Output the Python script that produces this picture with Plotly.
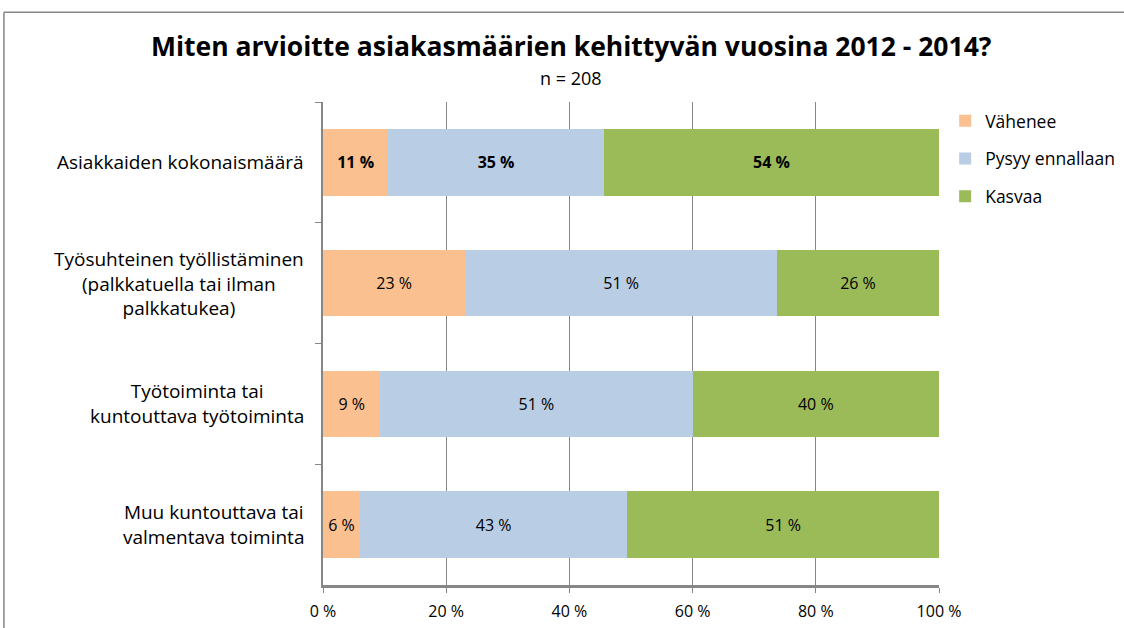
import plotly.graph_objects as go

categories = [
    "Asiakkaiden kokonaismäärä",
    "Työsuhteinen työllistäminen<br>(palkkatuella tai ilman<br>palkkatukea)",
    "Työtoiminta tai<br>kuntouttava työtoiminta",
    "Muu kuntouttava tai<br>valmentava toiminta",
]
series_names = ["Vähenee", "Pysyy ennallaan", "Kasvaa"]
vahenee = [10.6, 23.1, 9.3, 6.0]
pysyy = [35.0, 50.6, 50.7, 43.4]
kasvaa = [54.4, 26.3, 40.0, 50.6]
colors = ["#FAC090", "#B9CDE5", "#9BBB59"]
x_ticks = [0, 20, 40, 60, 80, 100]
x_ticklabels = ["0 %", "20 %", "40 %", "60 %", "80 %", "100 %"]
title = "Miten arvioitte asiakasmäärien kehittyvän vuosina 2012 - 2014?"
subtitle = "n = 208"

FONT = "Open Sans"

def labels(vals):
    out = []
    for i, v in enumerate(vals):
        s = f"{round(v)} %"
        out.append(f"<b>{s}</b>" if i == 0 else s)
    return out

fig = go.Figure()
for name, vals, col in zip(series_names, [vahenee, pysyy, kasvaa], colors):
    fig.add_trace(go.Bar(
        y=categories, x=vals, name=name, orientation="h",
        marker=dict(color=col, line=dict(width=0)),
        text=labels(vals), textposition="inside", insidetextanchor="middle",
        textfont=dict(family=FONT, size=16, color="black"),
        legendgroup=name,
    ))

# category labels centred like the original
for c in categories:
    fig.add_annotation(
        x=-0.027, xref="paper", y=c, yref="y", text=c, showarrow=False,
        xanchor="right", yanchor="middle", align="center",
        font=dict(family=FONT, size=19, color="black"),
    )

fig.add_annotation(x=0.4026, xref="paper", y=1.116, yref="paper", text=f"<b>{title}</b>",
                   showarrow=False, xanchor="center", yanchor="middle",
                   font=dict(family=FONT, size=26.5, color="black"))
fig.add_annotation(x=0.4026, xref="paper", y=1.05, yref="paper", text=subtitle,
                   showarrow=False, xanchor="center", yanchor="middle",
                   font=dict(family=FONT, size=18, color="black"))

# outer chart border (top and left)
fig.add_shape(type="line", xref="paper", yref="paper", x0=-0.518, x1=1.4, y0=1.186, y1=1.186,
              line=dict(color="#868686", width=1.5))
fig.add_shape(type="line", xref="paper", yref="paper", x0=-0.518, x1=-0.518, y0=1.186, y1=-0.1,
              line=dict(color="#868686", width=1.5))

fig.update_layout(
    width=1124, height=628,
    paper_bgcolor="white", plot_bgcolor="white",
    barmode="stack", bargap=0.45,
    margin=dict(l=323, r=185, t=102, b=43, autoexpand=False),
    showlegend=True,
    legend=dict(x=1.01, xanchor="left", y=0.998, yanchor="top", traceorder="grouped",
                font=dict(family=FONT, size=17.5, color="black"), tracegroupgap=12,
                itemwidth=30, bgcolor="rgba(0,0,0,0)"),
    xaxis=dict(range=[0, 100], tickvals=x_ticks, ticktext=x_ticklabels,
               showgrid=True, gridcolor="#868686", gridwidth=1,
               showline=True, linecolor="#868686", linewidth=2.5,
               ticks="outside", ticklen=5, tickcolor="#868686",
               tickfont=dict(family=FONT, size=16, color="black"), zeroline=False,
               ticklabelstandoff=5, fixedrange=True),
    yaxis=dict(autorange="reversed", showticklabels=False, showgrid=False,
               showline=True, linecolor="#868686", linewidth=2,
               ticks="outside", ticklen=6, tickcolor="#868686", tickson="boundaries",
               fixedrange=True),
    font=dict(family=FONT),
)

fig.write_html("out.html", config={"displayModeBar": False},
               post_script="document.body.style.margin='0';")
